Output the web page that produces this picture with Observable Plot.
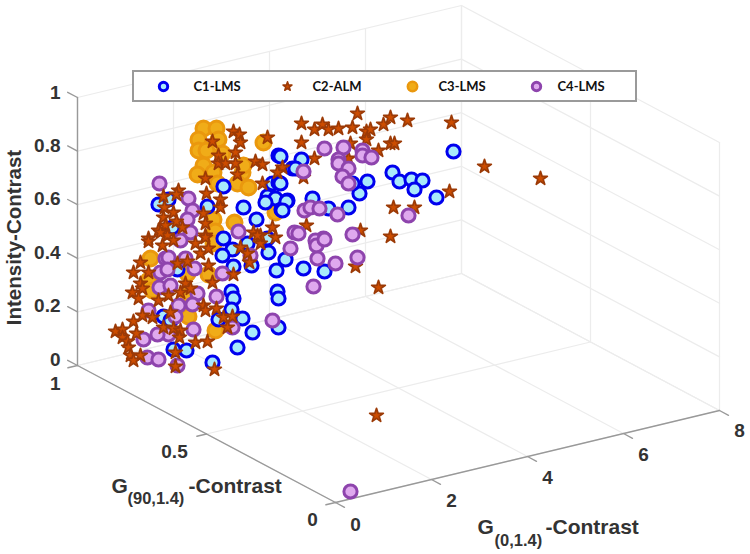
<!DOCTYPE html>
<html><head><meta charset="utf-8">
<script src="https://cdn.jsdelivr.net/npm/d3@7"></script>
<script src="https://cdn.jsdelivr.net/npm/@observablehq/plot@0.6"></script>
<style>html,body{margin:0;padding:0;background:#fff}svg{display:block}</style>
</head><body><div id="chart"></div>
<script>
// Ticks of the three 3D axes
const g0Ticks = [0,2,4,6,8];
const g90Ticks = [0,0.5,1];
const zTicks = [0,0.2,0.4,0.6,0.8,1];
const legendLabels = ["C1-LMS","C2-ALM","C3-LMS","C4-LMS"];

// Point positions, in projected plane coordinates
const c3 = [[203,128],[216,128],[198,139],[218,139],[198,150],[206,150],[222,153],[203,165],[197,174],[213,172],[242,172],[243,165],[217,183],[237,183],[248,187],[263,142],[275,212],[213,219],[234,222],[215,231],[150,258],[148,280],[152,290],[188,295],[188,316],[215,330],[213,243],[208,274],[187,273]];
const c1 = [[278,155],[223,186],[272,183],[278,182],[267,196],[275,198],[265,202],[281,209],[287,200],[292,168],[243,207],[256,219],[207,206],[168,199],[158,204],[172,227],[223,238],[247,243],[232,249],[222,255],[268,252],[267,238],[285,259],[251,265],[233,266],[276,270],[231,291],[233,298],[277,291],[278,298],[231,309],[242,318],[218,319],[278,327],[252,332],[237,347],[186,350],[173,349],[212,362],[163,316],[170,320],[177,269],[453,151],[392,172],[399,181],[411,179],[422,180],[414,189],[436,197],[367,181],[359,193],[352,183],[301,159],[295,168],[280,156],[280,183],[286,201],[282,210],[312,198],[328,208],[348,207],[303,268],[324,271]];
const c4 = [[159,183],[188,198],[192,210],[187,219],[190,232],[238,231],[165,258],[168,257],[160,272],[167,269],[185,258],[194,268],[222,273],[159,287],[170,285],[197,293],[216,296],[192,304],[178,305],[175,316],[232,327],[193,329],[168,334],[157,334],[143,339],[147,357],[158,359],[177,365],[272,320],[180,240],[250,255],[148,310],[324,148],[343,147],[362,150],[362,155],[371,157],[338,159],[338,163],[348,168],[342,176],[348,183],[303,171],[304,210],[310,207],[319,208],[337,214],[408,215],[294,232],[298,233],[323,238],[352,234],[315,240],[290,248],[316,245],[324,239],[317,258],[335,263],[357,257],[313,286],[350,491]];
const c2 = [[233,131],[239,134],[240,142],[212,141],[235,152],[218,155],[218,163],[225,163],[235,163],[255,161],[262,164],[267,137],[282,167],[277,172],[205,178],[237,174],[206,193],[178,190],[176,194],[163,196],[220,199],[220,207],[262,183],[164,207],[163,217],[173,212],[165,225],[176,221],[182,227],[158,230],[203,213],[205,223],[205,235],[272,227],[253,232],[260,235],[275,237],[148,238],[167,235],[148,241],[160,232],[162,245],[173,240],[195,243],[205,237],[200,253],[208,248],[240,247],[247,253],[260,243],[257,235],[249,262],[140,262],[133,272],[148,272],[177,263],[187,261],[208,265],[233,274],[212,282],[140,283],[132,292],[142,288],[168,295],[185,283],[190,288],[180,292],[138,298],[158,300],[170,312],[203,305],[205,310],[216,308],[223,317],[232,316],[227,327],[142,315],[133,321],[152,317],[163,327],[173,328],[180,330],[136,333],[115,331],[122,329],[122,337],[127,341],[128,347],[140,355],[130,355],[133,360],[179,337],[195,342],[207,341],[175,352],[175,366],[214,369],[357,113],[301,123],[314,129],[322,124],[328,129],[338,128],[352,127],[366,131],[370,129],[383,124],[390,117],[407,120],[451,122],[301,142],[366,139],[390,143],[394,143],[378,150],[350,143],[314,158],[348,158],[303,177],[449,191],[393,207],[414,207],[306,225],[360,230],[390,236],[378,287],[355,266],[484,166],[540,178],[376,415]];

// Orthographic view of the box: screen position of a 3D axis value
const proj = (g0, g90, z) => ({
  x: 335 + (g0/8)*384 - g90*258,
  y: 502 - (g0/8)*92 - g90*137 - z*268
});
const seg = (a, b, k) => [{...proj(...a), k}, {...proj(...b), k}];
const grid = [];
g0Ticks.forEach((t,i) => {
  grid.push(...seg([t,0,0],[t,1,0],"fa"+i));
  grid.push(...seg([t,1,0],[t,1,1],"fb"+i));
});
g90Ticks.forEach((t,i) => {
  grid.push(...seg([0,t,0],[8,t,0],"ga"+i));
  grid.push(...seg([8,t,0],[8,t,1],"gb"+i));
});
zTicks.forEach((t,i) => {
  grid.push(...seg([0,1,t],[8,1,t],"za"+i));
  grid.push(...seg([8,1,t],[8,0,t],"zb"+i));
});
const axes = [
  ...seg([0,0,0],[8,0,0],"x"), ...seg([0,0,0],[0,1,0],"y"), ...seg([0,1,0],[0,1,1],"z"),
  ...g0Ticks.flatMap((t,i) => seg([t,0,0],[t,-0.035,0],"xt"+i)),
  ...g90Ticks.flatMap((t,i) => seg([0,t,0],[-0.2,t,0],"yt"+i)),
  ...zTicks.flatMap((t,i) => seg([0,1,t],[0,1.038,t],"zt"+i))
];

const toRows = a => a.map(([x,y]) => ({x,y}));
const numFont = {fontFamily:"'Liberation Sans',Arial,sans-serif", fontWeight:"bold", fill:"#333"};
const star = {symbol:"star", r:4.3, fill:"#cc4c00", stroke:"#9c3a06", strokeWidth:1.7, strokeLinejoin:"round"};
const ring1 = {r:6.6, fill:"#a8e9fb", stroke:"#0000ee", strokeWidth:3};
const ring3 = {r:7.5, fill:"#f0ac18", stroke:"#ea980e", strokeWidth:3};
const ring4 = {r:6.6, fill:"#dfa9ee", stroke:"#8e44ad", strokeWidth:3};
const legendY = 86;
const legendRows = legendLabels.map((t,i) => ({t, mx:[163,287,412,536][i], tx:[193,312,438,557][i]}));
const label = (t, x, y, size, extra={}) => Plot.text([t], {x:()=>x, y:()=>y, text:d=>d, textAnchor:"start", fontSize:size, ...numFont, ...extra});

const chart = Plot.plot({
  width:750, height:554, margin:0,
  x:{domain:[0,750], range:[0,750], axis:null},
  y:{domain:[0,554], range:[0,554], axis:null},
  marks:[
    Plot.line(grid, {x:"x", y:"y", z:"k", stroke:"#ececec", strokeWidth:1.2}),
    Plot.line(axes, {x:"x", y:"y", z:"k", stroke:"#999", strokeWidth:1.4}),
    Plot.dot(toRows(c3), {x:"x", y:"y", ...ring3}),
    Plot.dot(toRows(c2).filter(d => d.x >= 290), {x:"x", y:"y", ...star}),
    Plot.dot(toRows(c1), {x:"x", y:"y", ...ring1}),
    Plot.dot(toRows(c4), {x:"x", y:"y", ...ring4}),
    Plot.dot(toRows(c2).filter(d => d.x < 290), {x:"x", y:"y", ...star}),
    // legend
    Plot.rect([{x1:133,x2:636,y1:71,y2:101}], {x1:"x1",x2:"x2",y1:"y1",y2:"y2", fill:"#fff", stroke:"#9a9a9a", strokeWidth:2}),
    Plot.dot(legendRows.slice(0,1), {x:"mx", y:()=>legendY, r:4.2, fill:"#a8e9fb", stroke:"#0000ee", strokeWidth:3}),
    Plot.dot(legendRows.slice(1,2), {x:"mx", y:()=>legendY, symbol:"star", r:2.8, fill:"#cc4c00", stroke:"#9c3a06", strokeWidth:1.5, strokeLinejoin:"round"}),
    Plot.dot(legendRows.slice(2,3), {x:"mx", y:()=>legendY, r:4.7, fill:"#f0ac18", stroke:"#ea980e", strokeWidth:2.5}),
    Plot.dot(legendRows.slice(3,4), {x:"mx", y:()=>legendY, r:4.2, fill:"#dfa9ee", stroke:"#8e44ad", strokeWidth:3}),
    Plot.text(legendRows, {x:"tx", y:()=>legendY, text:"t", textAnchor:"start", fontFamily:"Lato,'Open Sans',sans-serif", fontWeight:"bold", fontSize:13, fill:"#111"}),
    // tick labels
    Plot.text(zTicks.map((t,i)=>({t:String(t), x:60, y:359-53.4*i})), {x:"x", y:"y", text:"t", textAnchor:"end", fontSize:19, ...numFont}),
    Plot.text([{t:"1",x:60,y:383}], {x:"x", y:"y", text:"t", textAnchor:"end", fontSize:19, ...numFont}),
    Plot.text([{t:"0.5",x:174,y:451},{t:"0",x:312,y:519}], {x:"x", y:"y", text:"t", fontSize:19, ...numFont}),
    Plot.text(g0Ticks.map((t,i)=>({t:String(t), x:355+96*i, y:524-23.3*i})), {x:"x", y:"y", text:"t", fontSize:19, ...numFont}),
    // axis titles
    Plot.text(["Intensity-Contrast"], {x:()=>14, y:()=>237, text:d=>d, rotate:-90, fontSize:20.5, ...numFont}),
    label("G", 111, 486, 21),
    label("(90,1.4)", 127, 498, 16.5),
    label("-Contrast", 188, 486, 21),
    label("G", 477, 527, 21),
    label("(0,1.4)", 494, 540, 16.5),
    label("-Contrast", 545, 527, 21)
  ]
});
document.getElementById("chart").appendChild(chart);
</script></body></html>
